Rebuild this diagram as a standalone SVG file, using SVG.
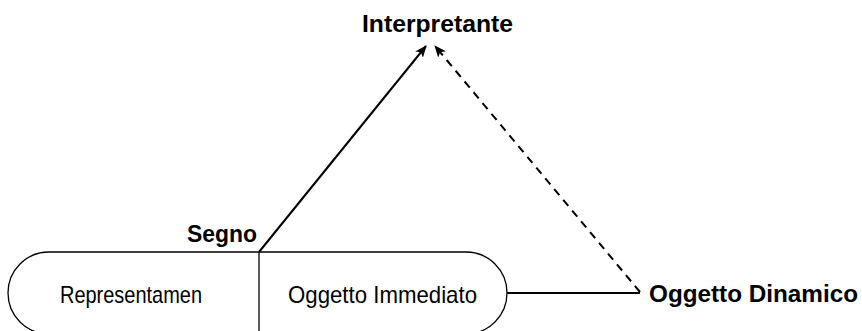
<svg xmlns="http://www.w3.org/2000/svg" width="862" height="331" viewBox="0 0 862 331">
<style>
.b{font-family:"Liberation Sans",Arial,sans-serif;font-weight:bold;font-size:24px;fill:#000}
.r{font-family:"Liberation Sans",Arial,sans-serif;font-size:24px;fill:#000}
.c{stroke:#000;stroke-width:2;fill:none}
.s{stroke:#000;stroke-width:1.3;fill:none}
</style>
<defs>
<marker id="ah" viewBox="0 0 12 10" refX="11" refY="5" markerWidth="12" markerHeight="10" markerUnits="userSpaceOnUse" orient="auto">
<path d="M0,0 L12,5 L0,10 L3,5 Z" fill="#000"/>
</marker>
</defs>
<g id="connectors">
<line class="c" x1="259" y1="252" x2="426" y2="46" marker-end="url(#ah)"/>
<line class="c" x1="640" y1="292" x2="435" y2="46" stroke-dasharray="8,6" marker-end="url(#ah)"/>
<line class="c" x1="507" y1="293" x2="640" y2="293"/>
</g>
<g id="segno">
<rect class="s" x="8" y="252" width="499" height="82" rx="41" ry="41"/>
<line class="s" x1="259" y1="252" x2="259" y2="334"/>
<text class="b" x="187" y="242" textLength="70" lengthAdjust="spacingAndGlyphs">Segno</text>
</g>
<g id="representamen">
<text class="r" x="60" y="303" textLength="142" lengthAdjust="spacingAndGlyphs">Representamen</text>
</g>
<g id="oggetto-immediato">
<text class="r" x="288" y="303" textLength="189" lengthAdjust="spacingAndGlyphs">Oggetto Immediato</text>
</g>
<g id="interpretante">
<text class="b" x="362" y="32" textLength="151" lengthAdjust="spacingAndGlyphs">Interpretante</text>
</g>
<g id="oggetto-dinamico">
<text class="b" x="649" y="302" textLength="209" lengthAdjust="spacingAndGlyphs">Oggetto Dinamico</text>
</g>
</svg>
